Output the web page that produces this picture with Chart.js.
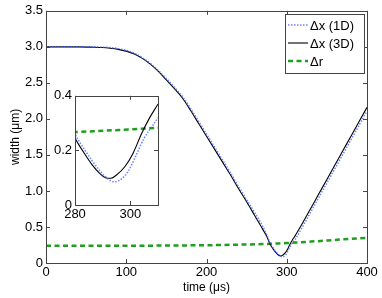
<!DOCTYPE html>
<html>
<head>
<meta charset="utf-8">
<script src="https://cdn.jsdelivr.net/npm/chart.js@4/dist/chart.umd.min.js"></script>
<style>
  body { margin: 0; background: #fff; }
  #wrap { position: relative; width: 382px; height: 298px; }
  #main { position: absolute; left: 0; top: 0; }
  #inset { position: absolute; left: 40px; top: 85px; }
</style>
</head>
<body>
<div id="wrap">
  <canvas id="main" width="382" height="298"></canvas>
  <canvas id="inset" width="125" height="140"></canvas>
</div>
<script>
// Δx (3D) - solid black
const t3D = [0, 20, 40, 60, 70, 80, 90, 100, 110, 120, 130, 140, 150, 160, 170, 180, 190, 200, 210, 220, 230, 240, 250, 260, 270, 275, 280, 283, 286, 289, 291, 293, 295, 298, 301, 304, 307, 310, 320, 330, 340, 350, 360, 370, 380, 390, 400];
const w3D = [3.0, 3.0, 3.0, 2.995, 2.99, 2.98, 2.965, 2.94, 2.9, 2.84, 2.76, 2.66, 2.54, 2.42, 2.29, 2.12, 1.94, 1.76, 1.58, 1.40, 1.22, 1.03, 0.85, 0.66, 0.47, 0.37, 0.245, 0.195, 0.15, 0.115, 0.10, 0.098, 0.11, 0.14, 0.19, 0.26, 0.32, 0.37, 0.56, 0.76, 0.96, 1.16, 1.36, 1.56, 1.76, 1.96, 2.16];

// Δx (1D) - blue dotted
const t1D = [0, 20, 40, 60, 70, 80, 90, 100, 110, 120, 130, 140, 150, 160, 170, 180, 190, 200, 210, 220, 230, 240, 250, 260, 270, 275, 280, 283, 286, 289, 292, 294, 296, 299, 302, 305, 308, 310, 320, 330, 340, 350, 360, 370, 380, 390, 400];
const w1D = [3.0, 3.0, 3.0, 3.0, 2.995, 2.99, 2.975, 2.95, 2.91, 2.85, 2.77, 2.67, 2.56, 2.44, 2.31, 2.15, 1.97, 1.79, 1.61, 1.43, 1.25, 1.06, 0.88, 0.70, 0.51, 0.39, 0.26, 0.21, 0.165, 0.125, 0.095, 0.085, 0.09, 0.12, 0.18, 0.245, 0.29, 0.32, 0.51, 0.71, 0.91, 1.11, 1.31, 1.51, 1.71, 1.91, 2.11];

// Δr - green dashed
const tR = [0, 50, 100, 150, 200, 230, 250, 270, 280, 290, 300, 310, 330, 350, 370, 400];
const wR = [0.24, 0.24, 0.24, 0.242, 0.247, 0.252, 0.257, 0.263, 0.267, 0.272, 0.277, 0.283, 0.297, 0.312, 0.328, 0.35];

const labels = ['Δx (1D)', 'Δx (3D)', 'Δr'];
const xTicks = [0, 100, 200, 300, 400];
const yTicks = [0, 0.5, 1, 1.5, 2, 2.5, 3, 3.5];
const insetXTicks = [280, 300];
const insetYTicks = [0, 0.2, 0.4];

const font = { family: 'Liberation Sans, Arial, sans-serif', size: 13 };
const titleFont = { family: 'Liberation Sans, Arial, sans-serif', size: 12 };
const pts = (xs, ys) => xs.map((x, i) => ({ x: x, y: ys[i] }));

function makeDatasets() {
    return [
        { label: labels[0], data: pts(t1D, w1D), borderColor: 'rgba(70,100,255,0.8)', borderWidth: 1.5, borderDash: [1.5, 1.5] },
        { label: labels[1], data: pts(t3D, w3D), borderColor: '#000', borderWidth: 1.1 },
        { label: labels[2], data: pts(tR, wR), borderColor: '#1f9e1f', borderWidth: 2.5, borderDash: [5, 3.5] }
    ].map(d => Object.assign(d, { pointRadius: 0, fill: false, cubicInterpolationMode: 'monotone' }));
}

// box around plot area and inward ticks on all sides
const boxAxes = {
    id: 'boxAxes',
    beforeDraw(chart) {
        const a = chart.chartArea, ctx = chart.ctx;
        ctx.save();
        ctx.fillStyle = '#fff';
        ctx.fillRect(a.left, a.top, a.right - a.left, a.bottom - a.top);
        ctx.restore();
    },
    afterDraw(chart) {
        const a = chart.chartArea, ctx = chart.ctx;
        const L = 4;
        ctx.save();
        ctx.strokeStyle = '#444';
        ctx.lineWidth = 1;
        ctx.strokeRect(Math.round(a.left) + 0.5, Math.round(a.top) + 0.5, Math.round(a.right - a.left), Math.round(a.bottom - a.top));
        ctx.beginPath();
        chart.scales.x.ticks.forEach(t => {
            const x = Math.round(chart.scales.x.getPixelForValue(t.value)) + 0.5;
            ctx.moveTo(x, a.bottom); ctx.lineTo(x, a.bottom - L);
            ctx.moveTo(x, a.top); ctx.lineTo(x, a.top + L);
        });
        chart.scales.y.ticks.forEach(t => {
            const y = Math.round(chart.scales.y.getPixelForValue(t.value)) + 0.5;
            ctx.moveTo(a.left, y); ctx.lineTo(a.left + L, y);
            ctx.moveTo(a.right, y); ctx.lineTo(a.right - L, y);
        });
        ctx.stroke();
        ctx.restore();
    }
};

// legend box in the top right corner
const boxLegend = {
    id: 'boxLegend',
    afterDraw(chart) {
        const ctx = chart.ctx;
        ctx.save();
        ctx.fillStyle = '#fff';
        ctx.fillRect(285, 14, 79, 59);
        ctx.strokeStyle = '#444';
        ctx.lineWidth = 1;
        ctx.strokeRect(285.5, 14.5, 79, 59);
        chart.data.datasets.forEach((d, i) => {
            const y = 25 + i * 18;
            ctx.strokeStyle = d.borderColor;
            ctx.lineWidth = d.borderWidth;
            ctx.setLineDash(d.borderDash || []);
            ctx.beginPath();
            ctx.moveTo(288, y); ctx.lineTo(308, y);
            ctx.stroke();
            ctx.setLineDash([]);
            ctx.fillStyle = '#000';
            ctx.font = font.size + 'px ' + font.family;
            ctx.textBaseline = 'middle';
            ctx.fillText(d.label, 310, y + 1);
        });
        ctx.restore();
    }
};

function axis(min, max, tickList, padding, sizeFn, title) {
    const o = {
        type: 'linear', min: min, max: max,
        afterBuildTicks: s => { s.ticks = tickList.map(v => ({ value: v })); },
        afterFit: sizeFn,
        grid: { display: false, drawTicks: false },
        border: { display: false },
        ticks: { font: font, color: '#000', padding: padding, maxRotation: 0, autoSkip: false }
    };
    if (title) o.title = title;
    return o;
}

new Chart(document.getElementById('main'), {
    type: 'line',
    data: { datasets: makeDatasets() },
    options: {
        responsive: false,
        animation: false,
        layout: { padding: { top: 10, right: 15, left: 0, bottom: 0 } },
        plugins: { legend: { display: false }, tooltip: { enabled: false } },
        scales: {
            x: axis(0, 400, xTicks, 2, s => { s.height = 35; },
                { display: true, text: 'time (μs)', font: titleFont, color: '#000', padding: { top: 0, bottom: 3 } }),
            y: axis(0, 3.5, yTicks, 3, s => { s.width = 46; },
                { display: true, text: 'width (μm)', font: titleFont, color: '#000', padding: { top: 8, bottom: 0 } })
        }
    },
    plugins: [boxAxes, boxLegend]
});

new Chart(document.getElementById('inset'), {
    type: 'line',
    data: { datasets: makeDatasets() },
    options: {
        responsive: false,
        animation: false,
        layout: { padding: { top: 10, right: 7, left: 0, bottom: 0 } },
        plugins: { legend: { display: false }, tooltip: { enabled: false } },
        scales: {
            x: axis(280, 310, insetXTicks, 2, s => { s.height = 20; }),
            y: axis(0, 0.4, insetYTicks, 3, s => { s.width = 35; })
        }
    },
    plugins: [boxAxes]
});
</script>
</body>
</html>
